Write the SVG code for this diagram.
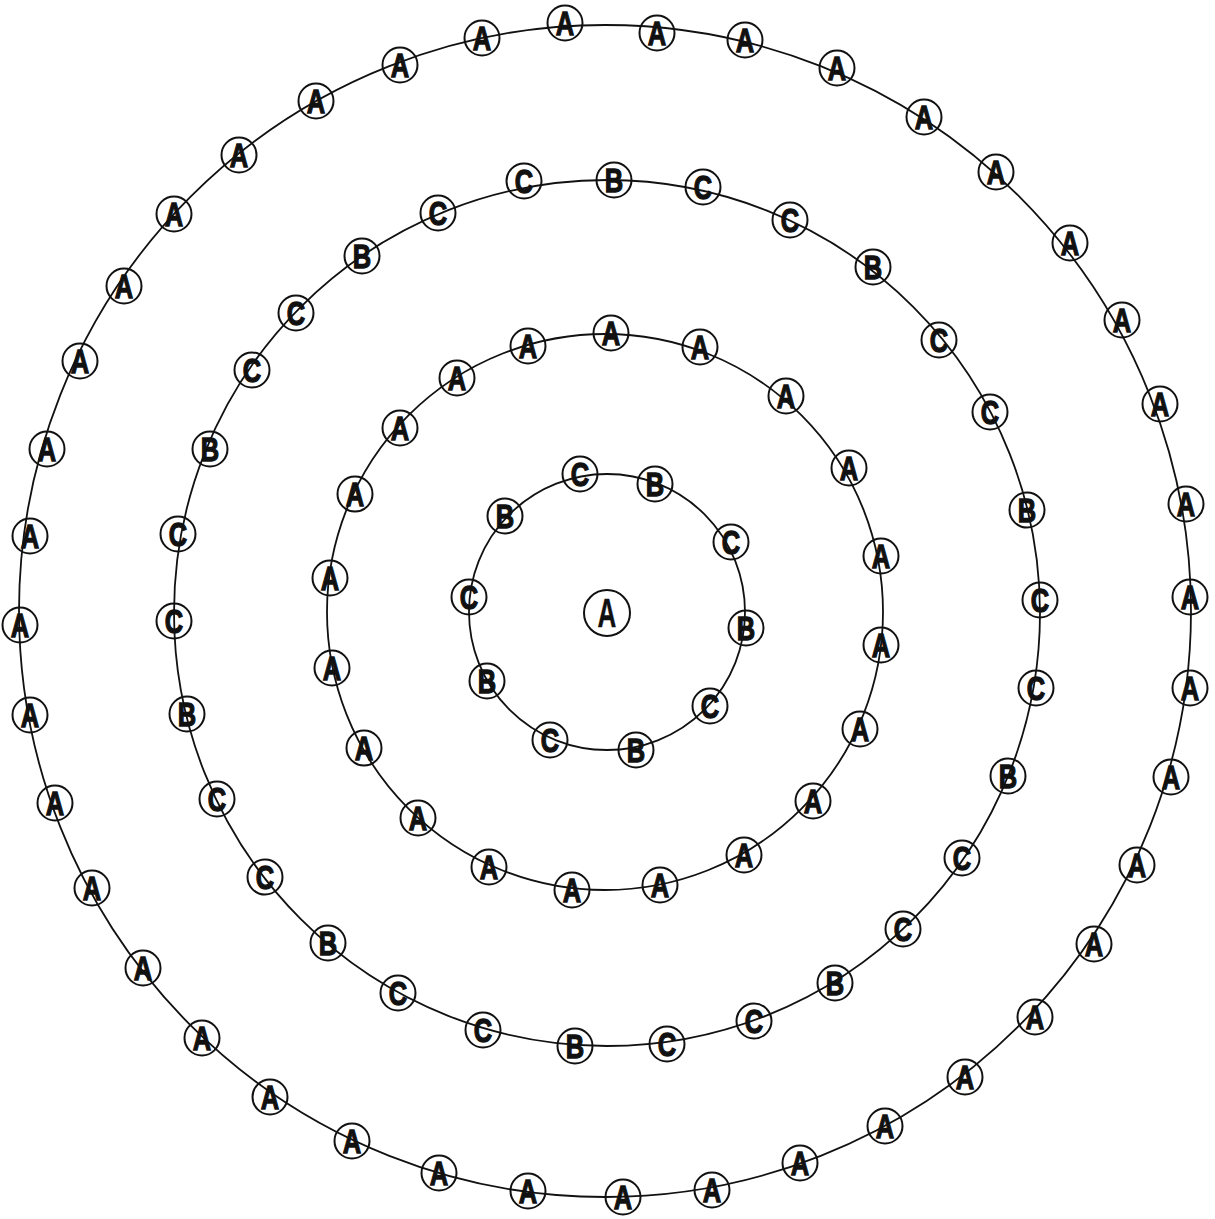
<svg xmlns="http://www.w3.org/2000/svg" width="1215" height="1219" viewBox="0 0 1215 1219">
<style>
.ring{fill:none;stroke:#111;stroke-width:1.8}
.nc{fill:none;stroke:#111;stroke-width:2}
.nt{font-family:"Liberation Sans",Arial,sans-serif;font-weight:bold;font-size:34px;fill:#111;stroke:#111;stroke-width:1.3;text-anchor:middle}
</style>
<rect width="1215" height="1219" fill="#fff"/>
<g id="connectors">
<circle class="ring" cx="607" cy="612" r="138"/>
<circle class="ring" cx="605" cy="612" r="278"/>
<circle class="ring" cx="607" cy="613" r="433"/>
<circle class="ring" cx="605" cy="611" r="586"/>
</g>
<defs>
<g id="nA"><circle class="nc" r="17.5"/><text class="nt" y="12" transform="scale(0.75,1)">A</text></g>
<g id="nB"><circle class="nc" r="17.5"/><text class="nt" y="12" transform="scale(0.75,1)">B</text></g>
<g id="nC"><circle class="nc" r="17.5"/><text class="nt" y="12" transform="scale(0.75,1)">C</text></g>
</defs>
<g id="center"><circle class="nc" cx="607" cy="613" r="23"/><text class="nt" x="0" y="0" style="font-size:40px;stroke-width:0.4" transform="translate(607,627) scale(0.65,1)">A</text></g>
<g id="r1">
<g id="r1n1"><use href="#nC" x="580" y="474"/></g>
<g id="r1n2"><use href="#nB" x="655" y="484"/></g>
<g id="r1n3"><use href="#nC" x="731" y="542"/></g>
<g id="r1n4"><use href="#nB" x="746" y="628"/></g>
<g id="r1n5"><use href="#nC" x="710" y="706"/></g>
<g id="r1n6"><use href="#nB" x="636" y="750"/></g>
<g id="r1n7"><use href="#nC" x="550" y="740"/></g>
<g id="r1n8"><use href="#nB" x="487" y="681"/></g>
<g id="r1n9"><use href="#nC" x="469" y="597"/></g>
<g id="r1n10"><use href="#nB" x="505" y="516"/></g>
</g>
<g id="r2">
<g id="r2n1"><use href="#nA" x="611" y="333"/></g>
<g id="r2n2"><use href="#nA" x="700" y="347"/></g>
<g id="r2n3"><use href="#nA" x="786" y="396"/></g>
<g id="r2n4"><use href="#nA" x="849" y="468"/></g>
<g id="r2n5"><use href="#nA" x="881" y="556"/></g>
<g id="r2n6"><use href="#nA" x="881" y="645"/></g>
<g id="r2n7"><use href="#nA" x="860" y="729"/></g>
<g id="r2n8"><use href="#nA" x="813" y="801"/></g>
<g id="r2n9"><use href="#nA" x="744" y="855"/></g>
<g id="r2n10"><use href="#nA" x="660" y="885"/></g>
<g id="r2n11"><use href="#nA" x="572" y="890"/></g>
<g id="r2n12"><use href="#nA" x="489" y="867"/></g>
<g id="r2n13"><use href="#nA" x="418" y="818"/></g>
<g id="r2n14"><use href="#nA" x="364" y="748"/></g>
<g id="r2n15"><use href="#nA" x="332" y="668"/></g>
<g id="r2n16"><use href="#nA" x="330" y="578"/></g>
<g id="r2n17"><use href="#nA" x="355" y="494"/></g>
<g id="r2n18"><use href="#nA" x="400" y="428"/></g>
<g id="r2n19"><use href="#nA" x="457" y="378"/></g>
<g id="r2n20"><use href="#nA" x="528" y="346"/></g>
</g>
<g id="r3">
<g id="r3n1"><use href="#nB" x="614" y="180"/></g>
<g id="r3n2"><use href="#nC" x="703" y="187"/></g>
<g id="r3n3"><use href="#nC" x="790" y="220"/></g>
<g id="r3n4"><use href="#nB" x="873" y="267"/></g>
<g id="r3n5"><use href="#nC" x="939" y="340"/></g>
<g id="r3n6"><use href="#nC" x="990" y="412"/></g>
<g id="r3n7"><use href="#nB" x="1027" y="510"/></g>
<g id="r3n8"><use href="#nC" x="1040" y="600"/></g>
<g id="r3n9"><use href="#nC" x="1036" y="688"/></g>
<g id="r3n10"><use href="#nB" x="1008" y="776"/></g>
<g id="r3n11"><use href="#nC" x="962" y="858"/></g>
<g id="r3n12"><use href="#nC" x="903" y="929"/></g>
<g id="r3n13"><use href="#nB" x="835" y="983"/></g>
<g id="r3n14"><use href="#nC" x="754" y="1021"/></g>
<g id="r3n15"><use href="#nC" x="667" y="1044"/></g>
<g id="r3n16"><use href="#nB" x="575" y="1046"/></g>
<g id="r3n17"><use href="#nC" x="483" y="1030"/></g>
<g id="r3n18"><use href="#nC" x="398" y="993"/></g>
<g id="r3n19"><use href="#nB" x="328" y="943"/></g>
<g id="r3n20"><use href="#nC" x="265" y="877"/></g>
<g id="r3n21"><use href="#nC" x="217" y="799"/></g>
<g id="r3n22"><use href="#nB" x="187" y="714"/></g>
<g id="r3n23"><use href="#nC" x="174" y="621"/></g>
<g id="r3n24"><use href="#nC" x="178" y="534"/></g>
<g id="r3n25"><use href="#nB" x="210" y="449"/></g>
<g id="r3n26"><use href="#nC" x="252" y="370"/></g>
<g id="r3n27"><use href="#nC" x="296" y="313"/></g>
<g id="r3n28"><use href="#nB" x="362" y="256"/></g>
<g id="r3n29"><use href="#nC" x="438" y="213"/></g>
<g id="r3n30"><use href="#nC" x="524" y="181"/></g>
</g>
<g id="r4">
<g id="r4n1"><use href="#nA" x="565" y="23"/></g>
<g id="r4n2"><use href="#nA" x="657" y="33"/></g>
<g id="r4n3"><use href="#nA" x="745" y="40"/></g>
<g id="r4n4"><use href="#nA" x="837" y="68"/></g>
<g id="r4n5"><use href="#nA" x="924" y="117"/></g>
<g id="r4n6"><use href="#nA" x="996" y="172"/></g>
<g id="r4n7"><use href="#nA" x="1070" y="243"/></g>
<g id="r4n8"><use href="#nA" x="1122" y="320"/></g>
<g id="r4n9"><use href="#nA" x="1160" y="404"/></g>
<g id="r4n10"><use href="#nA" x="1186" y="504"/></g>
<g id="r4n11"><use href="#nA" x="1190" y="597"/></g>
<g id="r4n12"><use href="#nA" x="1190" y="688"/></g>
<g id="r4n13"><use href="#nA" x="1171" y="777"/></g>
<g id="r4n14"><use href="#nA" x="1137" y="865"/></g>
<g id="r4n15"><use href="#nA" x="1094" y="944"/></g>
<g id="r4n16"><use href="#nA" x="1035" y="1017"/></g>
<g id="r4n17"><use href="#nA" x="965" y="1077"/></g>
<g id="r4n18"><use href="#nA" x="885" y="1126"/></g>
<g id="r4n19"><use href="#nA" x="800" y="1163"/></g>
<g id="r4n20"><use href="#nA" x="712" y="1190"/></g>
<g id="r4n21"><use href="#nA" x="623" y="1197"/></g>
<g id="r4n22"><use href="#nA" x="528" y="1191"/></g>
<g id="r4n23"><use href="#nA" x="439" y="1173"/></g>
<g id="r4n24"><use href="#nA" x="352" y="1141"/></g>
<g id="r4n25"><use href="#nA" x="270" y="1097"/></g>
<g id="r4n26"><use href="#nA" x="202" y="1038"/></g>
<g id="r4n27"><use href="#nA" x="143" y="968"/></g>
<g id="r4n28"><use href="#nA" x="92" y="888"/></g>
<g id="r4n29"><use href="#nA" x="55" y="803"/></g>
<g id="r4n30"><use href="#nA" x="30" y="715"/></g>
<g id="r4n31"><use href="#nA" x="20" y="625"/></g>
<g id="r4n32"><use href="#nA" x="30" y="536"/></g>
<g id="r4n33"><use href="#nA" x="47" y="449"/></g>
<g id="r4n34"><use href="#nA" x="80" y="361"/></g>
<g id="r4n35"><use href="#nA" x="124" y="286"/></g>
<g id="r4n36"><use href="#nA" x="174" y="214"/></g>
<g id="r4n37"><use href="#nA" x="239" y="155"/></g>
<g id="r4n38"><use href="#nA" x="316" y="101"/></g>
<g id="r4n39"><use href="#nA" x="400" y="65"/></g>
<g id="r4n40"><use href="#nA" x="482" y="38"/></g>
</g>
</svg>
